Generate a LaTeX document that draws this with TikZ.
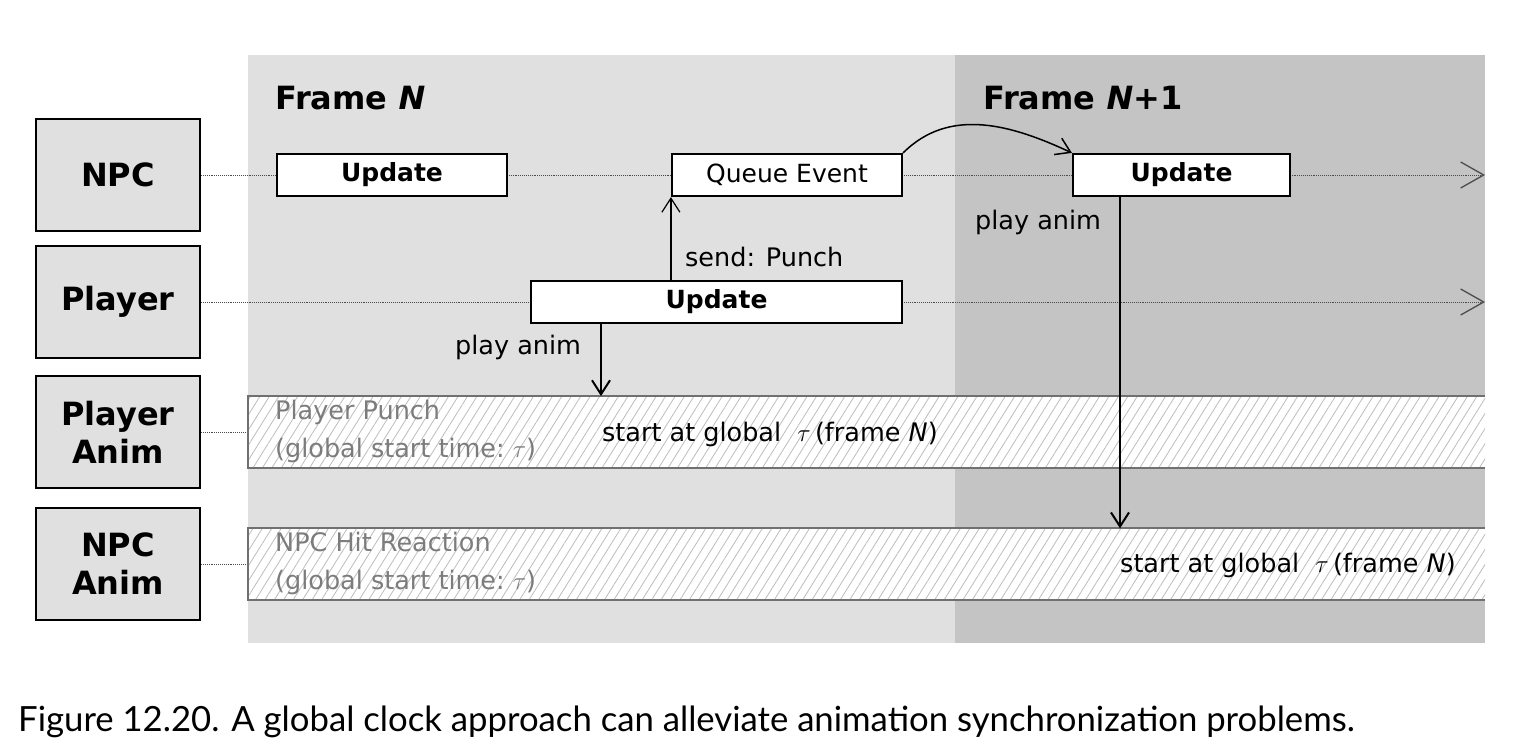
\documentclass[tikz,border=0pt]{standalone}
\usepackage{fontspec}
\setmainfont{DejaVu Sans}
\newfontfamily\capfont{Lato}
\usetikzlibrary{
  arrows.meta,
  positioning,
  patterns.meta
}
\definecolor{frameA}{HTML}{E0E0E0}
\definecolor{frameB}{HTML}{C4C4C4}
\definecolor{bargray}{HTML}{707070}
\definecolor{bartext}{HTML}{7C7C7C}

\begin{document}
\begin{tikzpicture}[x=1pt,y=-1pt,
  lanebox/.style={draw,line width=2pt,fill=frameA,minimum width=164pt,minimum height=112pt,
    align=center,font=\fontsize{32}{38}\selectfont\bfseries,inner sep=0pt},
  updbox/.style={draw,line width=2.2pt,fill=white,minimum height=42pt,inner sep=0pt,
    font=\fontsize{25}{30}\selectfont},
  bar/.style={minimum width=1237pt,minimum height=71pt,inner sep=0pt,
    preaction={fill=white},pattern={Lines[angle=58,distance=8pt,line width=0.8pt]},pattern color=black!26},
  lane/.style={densely dotted,line width=0.9pt,black!70},
  barline/.style={line width=2pt,bargray},
  note/.style={font=\fontsize{25.5}{30}\selectfont,inner sep=0pt},
  graynote/.style={font=\fontsize{25.5}{37.5}\selectfont,text=bartext,align=left,inner sep=0pt},
  >={Straight Barb[length=14pt,width=18pt]}]
  \useasboundingbox (0,0) rectangle (1517,752);
  % frames
  \fill[frameA] (248,55) rectangle (955,643);
  \fill[frameB] (955,55) rectangle (1485,643);
  \node[anchor=west,font=\fontsize{32}{38}\selectfont\bfseries,inner sep=0pt] (fa) at (275,98) {Frame \textit{N}};
  \node[anchor=west,font=\fontsize{32}{38}\selectfont\bfseries,inner sep=0pt] (fb) at (983,98) {Frame \textit{N}+1};

  % lanes
  \node[lanebox] (npc) at (118,175) {NPC};
  \node[lanebox] (ply) at (118,302) {Player};
  \node[lanebox] (panim) at (118,432) {Player\\Anim};
  \node[lanebox] (nanim) at (118,564) {NPC\\Anim};

  \coordinate (npcend) at (1485,175);
  \coordinate (plyend) at (1485,302);
  \draw[lane,-{Straight Barb[length=23pt,width=26pt,line width=1.3pt]}] (npc.east) -- (npcend);
  \draw[lane,-{Straight Barb[length=23pt,width=26pt,line width=1.3pt]}] (ply.east) -- (plyend);

  % animation bars
  \node[bar] (ppbar) at (866.5,432) {};
  \node[bar] (nhbar) at (866.5,564) {};
  \draw[lane] (panim.east) -- (ppbar.west);
  \draw[lane] (nanim.east) -- (nhbar.west);
  \draw[barline] (ppbar.north east) -- (ppbar.north west) -- (ppbar.south west) -- (ppbar.south east);
  \draw[barline] (nhbar.north east) -- (nhbar.north west) -- (nhbar.south west) -- (nhbar.south east);
  \node[graynote,anchor=north west] (pptxt) at (275,400) {Player Punch\\(global start time:~$\tau$)};
  \node[graynote,anchor=north west] (nhtxt) at (275,532) {NPC Hit Reaction\\(global start time:~$\tau$)};
  \node[note,anchor=west] (ppst) at (602,434) {start at global~~$\tau$\,(frame \textit{N})};
  \node[note,anchor=west] (nhst) at (1120,565) {start at global~~$\tau$\,(frame \textit{N})};

  % updates
  \node[updbox,minimum width=230pt] (upd1) at (392,175) {\bfseries Update};
  \node[updbox,minimum width=230pt] (qev) at (787,175) {Queue Event};
  \node[updbox,minimum width=217pt] (upd2) at (1181.5,175) {\bfseries Update};
  \node[updbox,minimum width=371pt] (pupd) at (716.5,302) {\bfseries Update};

  \draw[line width=1.2pt,->] (qev.south west |- pupd.north) -- (qev.south west);
  \node[note,anchor=west] (send) at (685,257) {send: Punch};
  \draw[line width=1.5pt,->] (qev.north east) to[out=45,in=155] (upd2.north west);
  \draw[line width=2pt,->] ([xshift=-115.5pt]pupd.south) -- ([xshift=-115.5pt]pupd.south |- ppbar.north);
  \node[note,anchor=west] (pa1) at (455,347) {play anim};
  \draw[line width=2pt,->] ([xshift=-61.5pt]upd2.south) -- ([xshift=-61.5pt]upd2.south |- nhbar.north);
  \node[note,anchor=west] (pa2) at (975,222) {play anim};

  % caption
  \node[anchor=west,inner sep=0pt,font=\capfont\fontsize{34.7}{40}\selectfont] (cap) at (18,722)
    {Figure 12.20. A global clock approach can alleviate animation synchronization problems.};
\end{tikzpicture}
\end{document}
